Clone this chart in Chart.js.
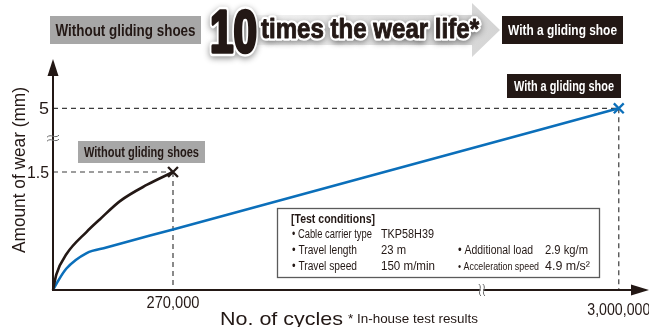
<!DOCTYPE html>
<html>
<head>
<meta charset="utf-8">
<script src="https://cdn.jsdelivr.net/npm/chart.js@4.4.0/dist/chart.umd.min.js"></script>
<style>
  html, body { margin: 0; padding: 0; background: #fff; }
</style>
</head>
<body>
<canvas id="wear" width="649" height="327"></canvas>
<script>
// wear vs. number of cycles (mm)
var plainCycles = [0, 7600, 30800, 75800, 105750, 150750, 210800, 270000];
var plainWear   = [0, 0.20, 0.46, 0.74, 0.90, 1.13, 1.335, 1.5];
var shoeCycles  = [0, 8300, 29700, 75800, 120000, 270000, 700000, 3000000];
var shoeWear    = [0, 0.085, 0.27, 0.47, 0.54, 0.77, 1.43, 5];

var xTicks = [270000, 3000000];
var xTickText = ['270,000', '3,000,000'];
var yTicks = [1.5, 5];
var yTickText = ['1.5', '5'];

var conditions = [
  ['• Cable carrier type', 'TKP58H39', '', ''],
  ['• Travel length', '23 m', '• Additional load', '2.9 kg/m'],
  ['• Travel speed', '150 m/min', '• Acceleration speed', '4.9 m/s²']
];

var INK = '#231815';
var BLUE = '#0b6fba';
var FONT = '"Liberation Sans", Arial, Helvetica, sans-serif';

// both axes are broken: the long stretch in the middle is cut out
var X_PER = 120 / 270000;
var X_BREAK = [965000, 2692000];
var Y_PER = 118 / 1.5;
var Y_BREAK = [1.93, 4.62];

function squeezeX(c) {
  if (c <= X_BREAK[0]) return c * X_PER;
  return (X_BREAK[0] + Math.max(0, c - X_BREAK[1])) * X_PER;
}
function squeezeY(v) {
  if (v <= Y_BREAK[0]) return v * Y_PER;
  return (Y_BREAK[0] + Math.max(0, v - Y_BREAK[1])) * Y_PER;
}
function points(xs, ys) {
  return xs.map(function(c, i) { return { x: squeezeX(c), y: squeezeY(ys[i]) }; });
}

// text squeezed or stretched horizontally to a given width
function fitText(ctx, str, x, y, w, font, opts) {
  opts = opts || {};
  ctx.save();
  ctx.font = font;
  var k = w / ctx.measureText(str).width;
  ctx.translate(x, y);
  ctx.scale(k, 1);
  ctx.textAlign = opts.align || 'left';
  ctx.textBaseline = 'alphabetic';
  if (opts.outline) {
    ctx.save();
    ctx.shadowColor = 'rgba(0,0,0,0.45)';
    ctx.shadowBlur = 6;
    ctx.shadowOffsetY = 2;
    ctx.lineJoin = 'round';
    ctx.lineWidth = opts.outline / k;
    ctx.strokeStyle = '#fff';
    ctx.strokeText(str, 0, 0);
    ctx.restore();
  }
  if (opts.heavy) {
    ctx.lineJoin = 'round';
    ctx.lineWidth = opts.heavy / k;
    ctx.strokeStyle = opts.color || INK;
    ctx.strokeText(str, 0, 0);
  }
  ctx.fillStyle = opts.color || INK;
  ctx.fillText(str, 0, 0);
  ctx.restore();
}

function tag(ctx, x, y, w, h, bg, fg, str, tw, size) {
  ctx.fillStyle = bg;
  ctx.fillRect(x, y, w, h);
  fitText(ctx, str, x + w / 2, y + h / 2 + size * 0.36, tw, 'bold ' + size + 'px ' + FONT, { align: 'center', color: fg });
}

function dashed(ctx, x1, y1, x2, y2) {
  ctx.save();
  ctx.strokeStyle = '#3c3c3c';
  ctx.lineWidth = 1.2;
  ctx.setLineDash([5, 4]);
  ctx.beginPath();
  ctx.moveTo(x1, y1);
  ctx.lineTo(x2, y2);
  ctx.stroke();
  ctx.restore();
}

var decor = {
  id: 'decor',
  beforeDatasetsDraw: function(chart) {
    var ctx = chart.ctx, xs = chart.scales.x, ys = chart.scales.y;
    var x0 = xs.getPixelForValue(0), y0 = ys.getPixelForValue(0);

    // guide lines to the end points
    var pEnd = [plainCycles[plainCycles.length - 1], plainWear[plainWear.length - 1]];
    var sEnd = [shoeCycles[shoeCycles.length - 1], shoeWear[shoeWear.length - 1]];
    var px = xs.getPixelForValue(squeezeX(pEnd[0])), py = ys.getPixelForValue(squeezeY(pEnd[1]));
    var sx = xs.getPixelForValue(squeezeX(sEnd[0])), sy = ys.getPixelForValue(squeezeY(sEnd[1]));
    dashed(ctx, x0, py, px, py);
    dashed(ctx, px, py, px, y0);
    dashed(ctx, x0, sy, sx, sy);
    dashed(ctx, sx, sy, sx, y0);

    // test conditions box
    ctx.save();
    ctx.strokeStyle = '#5a5a5a';
    ctx.lineWidth = 1.3;
    ctx.strokeRect(277.5, 208.5, 322, 69);
    ctx.restore();
    fitText(ctx, '[Test conditions]', 291, 223, 84, 'bold 12px ' + FONT);
    var rowsY = [238, 254, 270];
    var colX = [292, 381, 458, 545];
    var colW = [
      [80, 53, 0, 0],
      [65, 25, 75, 43],
      [65, 54, 81, 45]
    ];
    conditions.forEach(function(row, r) {
      row.forEach(function(str, c) {
        if (!str) return;
        var size = (c === 2 && r === 2) ? 11 : 12.5;
        fitText(ctx, str, colX[c], rowsY[r], colW[r][c], size + 'px ' + FONT);
      });
    });
  },
  afterDatasetsDraw: function(chart) {
    var ctx = chart.ctx, xs = chart.scales.x, ys = chart.scales.y;
    var x0 = xs.getPixelForValue(0), y0 = ys.getPixelForValue(0);
    var xEnd = x0 + 595, yTop = chart.chartArea.top;

    // axes with arrow heads
    ctx.save();
    ctx.strokeStyle = INK;
    ctx.fillStyle = INK;
    ctx.lineWidth = 2;
    ctx.beginPath();
    ctx.moveTo(x0, y0);
    ctx.lineTo(x0, yTop + 10);
    ctx.moveTo(x0 - 1, y0);
    ctx.lineTo(xEnd - 10, y0);
    ctx.stroke();
    ctx.beginPath();
    ctx.moveTo(x0, yTop - 1);
    ctx.lineTo(x0 - 5.5, yTop + 16);
    ctx.lineTo(x0 + 5.5, yTop + 16);
    ctx.closePath();
    ctx.fill();
    ctx.beginPath();
    ctx.moveTo(xEnd + 1, y0);
    ctx.lineTo(xEnd - 17, y0 - 5.5);
    ctx.lineTo(xEnd - 17, y0 + 5.5);
    ctx.closePath();
    ctx.fill();
    ctx.restore();

    // break marks on both axes
    var bx = xs.getPixelForValue(squeezeX(X_BREAK[0]));
    var by = ys.getPixelForValue(squeezeY(Y_BREAK[0]));
    ctx.save();
    ctx.fillStyle = '#fff';
    ctx.fillRect(bx - 1.5, y0 - 4, 3, 8);
    ctx.strokeStyle = '#6a6a6a';
    ctx.lineWidth = 1;
    [-2, 2].forEach(function(d) {
      ctx.beginPath();
      ctx.moveTo(bx + d - 1, y0 - 6);
      ctx.bezierCurveTo(bx + d + 3, y0 - 2, bx + d - 3, y0 + 2, bx + d + 1, y0 + 6);
      ctx.stroke();
      ctx.beginPath();
      ctx.moveTo(x0 - 6, by + d + 1);
      ctx.bezierCurveTo(x0 - 2, by + d - 3, x0 + 2, by + d + 3, x0 + 6, by + d - 1);
      ctx.stroke();
    });
    ctx.restore();

    // tick labels
    xTicks.forEach(function(v, i) {
      var x = xs.getPixelForValue(squeezeX(v));
      var w = i === 0 ? 53 : 63;
      var base = i === 0 ? 308 : 315;
      fitText(ctx, xTickText[i], x, base, w, '16px ' + FONT, { align: 'center' });
    });
    yTicks.forEach(function(v, i) {
      var y = ys.getPixelForValue(squeezeY(v));
      var w = i === 0 ? 22 : 10;
      fitText(ctx, yTickText[i], x0 - 4, y + 6, w, '17px ' + FONT, { align: 'right' });
    });

    // axis titles
    fitText(ctx, 'No. of cycles', 220, 325, 123, '19px ' + FONT);
    fitText(ctx, '* In-house test results', 348, 323, 130, '13px ' + FONT);
    ctx.save();
    ctx.translate(25, 170);
    ctx.rotate(-Math.PI / 2);
    fitText(ctx, 'Amount of wear (mm)', 0, 0, 166, '18px ' + FONT, { align: 'center' });
    ctx.restore();

    // end point tags
    tag(ctx, 78, 141, 127, 22, '#a7a7a7', INK, 'Without gliding shoes', 115, 14);
    tag(ctx, 507, 74, 114, 24, INK, '#fff', 'With a gliding shoe', 100, 14);

    // headline banner
    var g = ctx.createLinearGradient(205, 0, 500, 0);
    g.addColorStop(0, '#ffffff');
    g.addColorStop(0.35, '#ececec');
    g.addColorStop(1, '#d4d4d4');
    ctx.save();
    ctx.fillStyle = g;
    ctx.beginPath();
    ctx.moveTo(205, 15);
    ctx.lineTo(472, 15);
    ctx.lineTo(472, 3);
    ctx.lineTo(500, 30);
    ctx.lineTo(472, 57);
    ctx.lineTo(472, 45);
    ctx.lineTo(205, 45);
    ctx.closePath();
    ctx.fill();
    ctx.restore();
    tag(ctx, 50, 16, 151, 28, '#a7a7a7', INK, 'Without gliding shoes', 140, 16);
    tag(ctx, 502, 16, 121, 28, INK, '#fff', 'With a gliding shoe', 109, 15);
    fitText(ctx, '10', 210, 52, 47, 'bold 60px ' + FONT, { outline: 6, heavy: 2.5 });
    fitText(ctx, 'times the wear life*', 261, 38, 218, 'bold 27px ' + FONT, { outline: 5, heavy: 0.8 });
  }
};

function endMarks(n, size) {
  var r = [];
  for (var i = 0; i < n; i++) r.push(i === n - 1 ? size : 0);
  return r;
}

new Chart(document.getElementById('wear').getContext('2d'), {
  type: 'line',
  data: {
    datasets: [{
      label: 'Without gliding shoes',
      data: points(plainCycles, plainWear),
      borderColor: INK,
      borderWidth: 2.6,
      cubicInterpolationMode: 'monotone',
      pointStyle: 'crossRot',
      pointRadius: endMarks(plainCycles.length, 7),
      pointBorderColor: INK,
      pointBorderWidth: 2.3
    }, {
      label: 'With a gliding shoe',
      data: points(shoeCycles, shoeWear),
      borderColor: BLUE,
      borderWidth: 2.6,
      cubicInterpolationMode: 'monotone',
      pointStyle: 'crossRot',
      pointRadius: endMarks(shoeCycles.length, 7),
      pointBorderColor: BLUE,
      pointBorderWidth: 2.3
    }]
  },
  options: {
    responsive: false,
    animation: false,
    clip: false,
    // right side is kept wider than the end markers need, so 1 unit = 1px
    layout: { padding: { left: 53, right: 10, top: 60, bottom: 37 } },
    scales: {
      x: { type: 'linear', min: 0, max: 586, display: false },
      y: { type: 'linear', min: 0, max: 230, display: false }
    },
    plugins: { legend: { display: false }, tooltip: { enabled: false } }
  },
  plugins: [decor]
});
</script>
</body>
</html>
